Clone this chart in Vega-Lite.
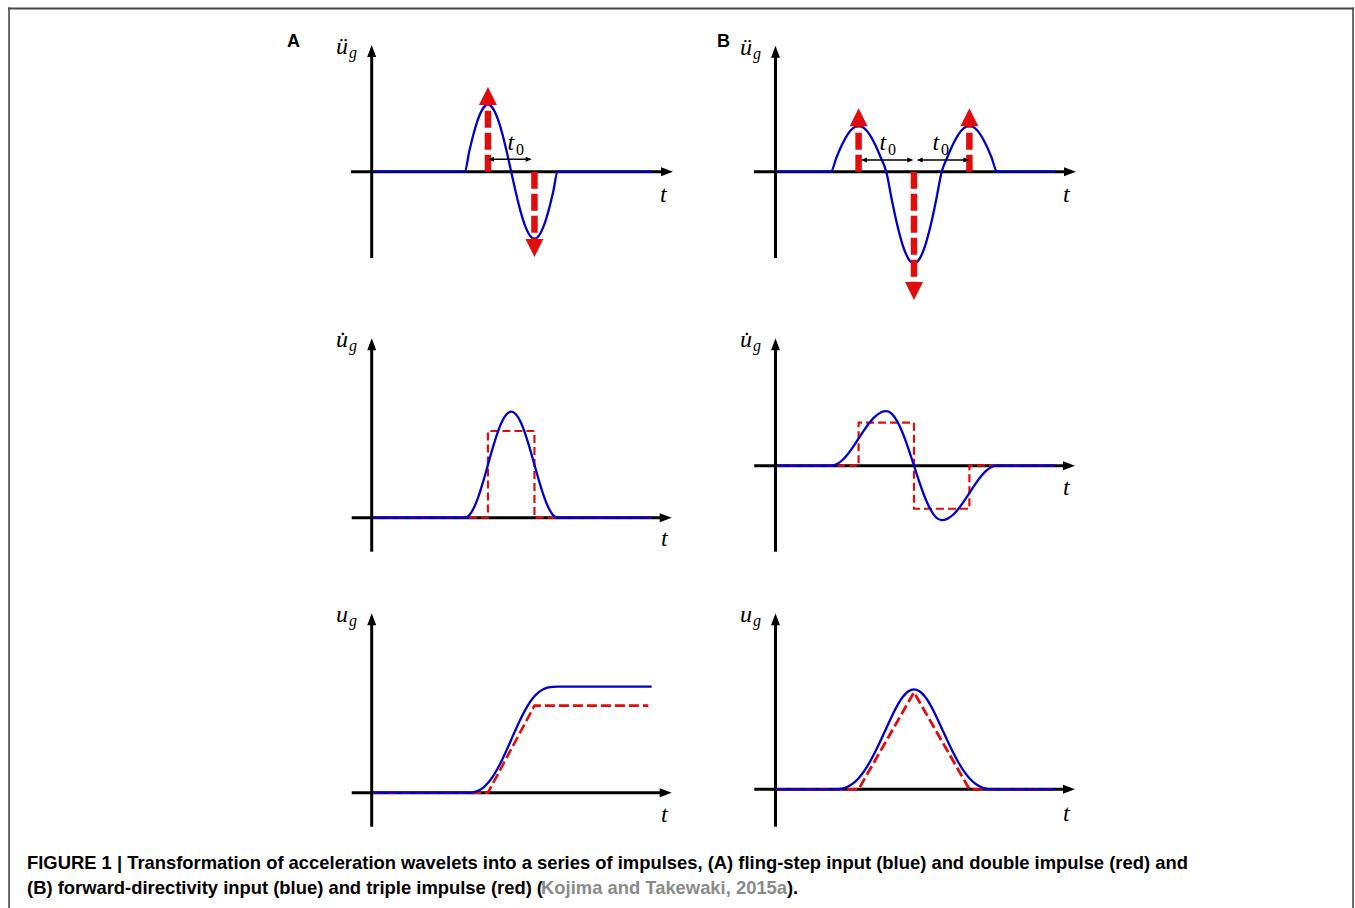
{
"$schema": "https://vega.github.io/schema/vega-lite/v6.json",
"padding": 0,
"background": "white",
"spacing": 0,
"config": {"view": {"stroke": null, "fill": "white"}},
"vconcat": [
{"hconcat": [
{"width": 678, "height": 310,
"encoding": {
"x": {"field": "x", "type": "quantitative", "scale": {"domain": [-7.99355, 6.5871], "nice": false, "zero": false}, "axis": null},
"y": {"field": "y", "type": "quantitative", "scale": {"domain": [-2.06418, 2.56269], "nice": false, "zero": false}, "axis": null}},
"layer": [
{"data": {"values": [{"x": -7.8215, "y": -2.06418, "x2": -7.7785, "y2": 2.4507}]}, "mark": {"type": "rect", "color": "#6e6e6e", "strokeWidth": 0}, "encoding": {"x2": {"field": "x2"}, "y2": {"field": "y2"}}},
{"data": {"values": [{"x": -7.8215, "y": 2.4209, "x2": 6.5871, "y2": 2.4507}]}, "mark": {"type": "rect", "color": "#4a4a4a", "strokeWidth": 0}, "encoding": {"x2": {"field": "x2"}, "y2": {"field": "y2"}}},
{"data": {"values": [{"x": 0, "y": -1.288, "x2": 0, "y2": 1.8}, {"x": -0.445, "y": 0, "x2": 6.35, "y2": 0}]}, "mark": {"type": "rule", "color": "#000", "strokeWidth": 3}, "encoding": {"x2": {"field": "x2"}, "y2": {"field": "y2"}}},
{"data": {"values": [{"x": 0, "y": 1.8015}]}, "mark": {"type": "point", "shape": "M0,-1L0.75,1L-0.75,1Z", "size": 144, "filled": true, "color": "#000", "opacity": 1, "strokeWidth": 0}},
{"data": {"values": [{"x": 6.3505, "y": 0}]}, "mark": {"type": "point", "shape": "M1,0L-1,-0.75L-1,0.75Z", "size": 144, "filled": true, "color": "#000", "opacity": 1, "strokeWidth": 0}},
{"data": {"values": [{"x":0.03,"y":0},{"x":2,"y":0},{"x":2.1,"y":0.309},{"x":2.2,"y":0.588},{"x":2.3,"y":0.809},{"x":2.4,"y":0.951},{"x":2.5,"y":1},{"x":2.6,"y":0.951},{"x":2.7,"y":0.809},{"x":2.8,"y":0.588},{"x":2.9,"y":0.309},{"x":3,"y":0},{"x":3.1,"y":-0.309},{"x":3.2,"y":-0.588},{"x":3.3,"y":-0.809},{"x":3.4,"y":-0.951},{"x":3.5,"y":-1},{"x":3.6,"y":-0.951},{"x":3.7,"y":-0.809},{"x":3.8,"y":-0.588},{"x":3.9,"y":-0.309},{"x":4,"y":0},{"x":6.03,"y":0}]}, "mark": {"type": "line", "color": "#0000cd", "strokeWidth": 2.3, "interpolate": "monotone"}, "encoding": {}},
{"data": {"values": [{"x": 2.5, "y": 0, "x2": 2.5, "y2": 0.995}, {"x": 3.5, "y": 0, "x2": 3.5, "y2": -1.0}]}, "mark": {"type": "rule", "color": "#e00d0d", "strokeWidth": 6.5, "strokeDash": [17, 5]}, "encoding": {"x2": {"field": "x2"}, "y2": {"field": "y2"}}},
{"data": {"values": [{"x": 2.5, "y": 1.1299}]}, "mark": {"type": "point", "shape": "M0,-1L1,1L-1,1Z", "size": 324, "filled": true, "color": "#e00d0d", "opacity": 1, "strokeWidth": 0}},
{"data": {"values": [{"x": 3.5, "y": -1.1388}]}, "mark": {"type": "point", "shape": "M0,1L1,-1L-1,-1Z", "size": 324, "filled": true, "color": "#e00d0d", "opacity": 1, "strokeWidth": 0}},
{"data": {"values": [{"x": 2.53, "y": 0.185, "x2": 3.41, "y2": 0.185}]}, "mark": {"type": "rule", "color": "#000", "strokeWidth": 1.5}, "encoding": {"x2": {"field": "x2"}, "y2": {"field": "y2"}}},
{"data": {"values": [{"x": 2.5656, "y": 0.185}]}, "mark": {"type": "point", "shape": "M-1,0L1,-0.85L1,0.85Z", "size": 36, "filled": true, "color": "#000", "opacity": 1, "strokeWidth": 0}},
{"data": {"values": [{"x": 3.3763, "y": 0.185}]}, "mark": {"type": "point", "shape": "M1,0L-1,-0.85L-1,0.85Z", "size": 36, "filled": true, "color": "#000", "opacity": 1, "strokeWidth": 0}},
{"data": {"values": [{"x": -0.768, "y": 1.7567, "s": "ü"}, {"x": 6.2, "y": -0.452, "s": "t"}, {"x": 2.92, "y": 0.324, "s": "t"}]}, "mark": {"type": "text", "align": "left", "baseline": "alphabetic", "font": "Liberation Serif", "fontStyle": "italic", "fontSize": 24, "color": "#000"}, "encoding": {"text": {"field": "s"}}},
{"data": {"values": [{"x": -0.488, "y": 1.697, "s": "g"}]}, "mark": {"type": "text", "align": "left", "baseline": "alphabetic", "font": "Liberation Serif", "fontStyle": "italic", "fontSize": 16, "color": "#000"}, "encoding": {"text": {"field": "s"}}},
{"data": {"values": [{"x": 3.105, "y": 0.249, "s": "0"}]}, "mark": {"type": "text", "align": "left", "baseline": "alphabetic", "font": "Liberation Serif", "fontSize": 16, "color": "#000"}, "encoding": {"text": {"field": "s"}}},
{"data": {"values": [{"x": -1.8215, "y": 1.861, "s": "A"}]}, "mark": {"type": "text", "align": "left", "baseline": "alphabetic", "font": "Liberation Sans", "fontWeight": "bold", "fontSize": 18, "color": "#000"}, "encoding": {"text": {"field": "s"}}}
]},
{"width": 677, "height": 310,
"encoding": {
"x": {"field": "x", "type": "quantitative", "scale": {"domain": [-1.75993, 10.46029], "nice": false, "zero": false}, "axis": null},
"y": {"field": "y", "type": "quantitative", "scale": {"domain": [-3.01965, 3.74891], "nice": false, "zero": false}, "axis": null}},
"layer": [
{"data": {"values": [{"x": 10.4061, "y": -3.01965, "x2": 10.4422, "y2": 3.5852}]}, "mark": {"type": "rect", "color": "#6e6e6e", "strokeWidth": 0}, "encoding": {"x2": {"field": "x2"}, "y2": {"field": "y2"}}},
{"data": {"values": [{"x": -1.75993, "y": 3.5415, "x2": 10.4422, "y2": 3.5852}]}, "mark": {"type": "rect", "color": "#4a4a4a", "strokeWidth": 0}, "encoding": {"x2": {"field": "x2"}, "y2": {"field": "y2"}}},
{"data": {"values": [{"x": 0, "y": -1.8843, "x2": 0, "y2": 2.62}, {"x": -0.388, "y": 0, "x2": 5.316, "y2": 0}]}, "mark": {"type": "rule", "color": "#000", "strokeWidth": 3}, "encoding": {"x2": {"field": "x2"}, "y2": {"field": "y2"}}},
{"data": {"values": [{"x": 0, "y": 2.62}]}, "mark": {"type": "point", "shape": "M0,-1L0.75,1L-0.75,1Z", "size": 144, "filled": true, "color": "#000", "opacity": 1, "strokeWidth": 0}},
{"data": {"values": [{"x": 5.3159, "y": 0}]}, "mark": {"type": "point", "shape": "M1,0L-1,-0.75L-1,0.75Z", "size": 144, "filled": true, "color": "#000", "opacity": 1, "strokeWidth": 0}},
{"data": {"values": [{"x":0.03,"y":0},{"x":1,"y":0},{"x":1.1,"y":0.309},{"x":1.2,"y":0.588},{"x":1.3,"y":0.809},{"x":1.4,"y":0.951},{"x":1.5,"y":1},{"x":1.6,"y":0.951},{"x":1.7,"y":0.809},{"x":1.8,"y":0.588},{"x":1.9,"y":0.309},{"x":2,"y":0},{"x":2.1,"y":-0.618},{"x":2.2,"y":-1.176},{"x":2.3,"y":-1.618},{"x":2.4,"y":-1.902},{"x":2.5,"y":-2},{"x":2.6,"y":-1.902},{"x":2.7,"y":-1.618},{"x":2.8,"y":-1.176},{"x":2.9,"y":-0.618},{"x":3,"y":0},{"x":3.1,"y":0.309},{"x":3.2,"y":0.588},{"x":3.3,"y":0.809},{"x":3.4,"y":0.951},{"x":3.5,"y":1},{"x":3.6,"y":0.951},{"x":3.7,"y":0.809},{"x":3.8,"y":0.588},{"x":3.9,"y":0.309},{"x":4,"y":0},{"x":5.045,"y":0}]}, "mark": {"type": "line", "color": "#0000cd", "strokeWidth": 2.3, "interpolate": "monotone"}, "encoding": {}},
{"data": {"values": [{"x": 1.5, "y": 0, "x2": 1.5, "y2": 0.991}, {"x": 3.5, "y": 0, "x2": 3.5, "y2": 0.991}, {"x": 2.5, "y": 0, "x2": 2.5, "y2": -2.408}]}, "mark": {"type": "rule", "color": "#e00d0d", "strokeWidth": 6.5, "strokeDash": [17, 5]}, "encoding": {"x2": {"field": "x2"}, "y2": {"field": "y2"}}},
{"data": {"values": [{"x": 1.5, "y": 1.188}, {"x": 3.5, "y": 1.188}]}, "mark": {"type": "point", "shape": "M0,-1L1,1L-1,1Z", "size": 324, "filled": true, "color": "#e00d0d", "opacity": 1, "strokeWidth": 0}},
{"data": {"values": [{"x": 2.5, "y": -2.605}]}, "mark": {"type": "point", "shape": "M0,1L1,-1L-1,-1Z", "size": 324, "filled": true, "color": "#e00d0d", "opacity": 1, "strokeWidth": 0}},
{"data": {"values": [{"x": 1.57, "y": 0.2555, "x2": 2.46, "y2": 0.2555}, {"x": 2.58, "y": 0.2555, "x2": 3.47, "y2": 0.2555}]}, "mark": {"type": "rule", "color": "#000", "strokeWidth": 1.5}, "encoding": {"x2": {"field": "x2"}, "y2": {"field": "y2"}}},
{"data": {"values": [{"x": 1.598, "y": 0.2555}, {"x": 2.603, "y": 0.2555}]}, "mark": {"type": "point", "shape": "M-1,0L1,-0.85L1,0.85Z", "size": 36, "filled": true, "color": "#000", "opacity": 1, "strokeWidth": 0}},
{"data": {"values": [{"x": 2.433, "y": 0.2555}, {"x": 3.444, "y": 0.2555}]}, "mark": {"type": "point", "shape": "M1,0L-1,-0.85L-1,0.85Z", "size": 36, "filled": true, "color": "#000", "opacity": 1, "strokeWidth": 0}},
{"data": {"values": [{"x": -0.641, "y": 2.548, "s": "ü"}, {"x": 5.19, "y": -0.662, "s": "t"}, {"x": 1.877, "y": 0.474, "s": "t"}, {"x": 2.834, "y": 0.474, "s": "t"}]}, "mark": {"type": "text", "align": "left", "baseline": "alphabetic", "font": "Liberation Serif", "fontStyle": "italic", "fontSize": 24, "color": "#000"}, "encoding": {"text": {"field": "s"}}},
{"data": {"values": [{"x": -0.406, "y": 2.461, "s": "g"}]}, "mark": {"type": "text", "align": "left", "baseline": "alphabetic", "font": "Liberation Serif", "fontStyle": "italic", "fontSize": 16, "color": "#000"}, "encoding": {"text": {"field": "s"}}},
{"data": {"values": [{"x": 2.031, "y": 0.365, "s": "0"}, {"x": 2.987, "y": 0.365, "s": "0"}]}, "mark": {"type": "text", "align": "left", "baseline": "alphabetic", "font": "Liberation Serif", "fontSize": 16, "color": "#000"}, "encoding": {"text": {"field": "s"}}},
{"data": {"values": [{"x": -1.056, "y": 2.723, "s": "B"}]}, "mark": {"type": "text", "align": "left", "baseline": "alphabetic", "font": "Liberation Sans", "fontWeight": "bold", "fontSize": 18, "color": "#000"}, "encoding": {"text": {"field": "s"}}}
]}
], "spacing": 0, "bounds": "flush"},
{"hconcat": [
{"width": 678, "height": 275,
"encoding": {
"x": {"field": "x", "type": "quantitative", "scale": {"domain": [-7.99355, 6.5871], "nice": false, "zero": false}, "axis": null},
"y": {"field": "y", "type": "quantitative", "scale": {"domain": [-0.63491, 1.95943], "nice": false, "zero": false}, "axis": null}},
"layer": [
{"data": {"values": [{"x": -7.8215, "y": -0.63491, "x2": -7.7785, "y2": 1.95943}]}, "mark": {"type": "rect", "color": "#6e6e6e", "strokeWidth": 0}, "encoding": {"x2": {"field": "x2"}, "y2": {"field": "y2"}}},
{"data": {"values": [{"x": 0, "y": -0.3208, "x2": 0, "y2": 1.636}, {"x": -0.43, "y": 0, "x2": 6.3226, "y2": 0}]}, "mark": {"type": "rule", "color": "#000", "strokeWidth": 3}, "encoding": {"x2": {"field": "x2"}, "y2": {"field": "y2"}}},
{"data": {"values": [{"x": 0, "y": 1.636}]}, "mark": {"type": "point", "shape": "M0,-1L0.75,1L-0.75,1Z", "size": 144, "filled": true, "color": "#000", "opacity": 1, "strokeWidth": 0}},
{"data": {"values": [{"x": 6.3226, "y": 0}]}, "mark": {"type": "point", "shape": "M1,0L-1,-0.75L-1,0.75Z", "size": 144, "filled": true, "color": "#000", "opacity": 1, "strokeWidth": 0}},
{"data": {"values": [{"i":0,"x":0.03,"y":0},{"i":1,"x":2.5,"y":0},{"i":2,"x":2.5,"y":0.818},{"i":3,"x":3.5,"y":0.818},{"i":4,"x":3.5,"y":0},{"i":5,"x":6.02,"y":0}]}, "mark": {"type": "line", "color": "#e00d0d", "strokeWidth": 2.2, "strokeDash": [8, 4]}, "encoding": {"order": {"field": "i", "type": "quantitative"}}},
{"data": {"values": [{"x":0.03,"y":0},{"x":2,"y":0},{"x":2.1,"y":0.0245},{"x":2.2,"y":0.0955},{"x":2.3,"y":0.206},{"x":2.4,"y":0.3455},{"x":2.5,"y":0.5},{"x":2.6,"y":0.6545},{"x":2.7,"y":0.794},{"x":2.8,"y":0.9045},{"x":2.9,"y":0.9755},{"x":3,"y":1},{"x":3.1,"y":0.9755},{"x":3.2,"y":0.9045},{"x":3.3,"y":0.794},{"x":3.4,"y":0.6545},{"x":3.5,"y":0.5},{"x":3.6,"y":0.3455},{"x":3.7,"y":0.206},{"x":3.8,"y":0.0955},{"x":3.9,"y":0.0245},{"x":4,"y":0},{"x":6.02,"y":0}]}, "mark": {"type": "line", "color": "#0000cd", "strokeWidth": 2.3, "interpolate": "monotone"}, "encoding": {}},
{"data": {"values": [{"x": -0.768, "y": 1.6075, "s": "u̇"}, {"x": 6.222, "y": -0.267, "s": "t"}]}, "mark": {"type": "text", "align": "left", "baseline": "alphabetic", "font": "Liberation Serif", "fontStyle": "italic", "fontSize": 24, "color": "#000"}, "encoding": {"text": {"field": "s"}}},
{"data": {"values": [{"x": -0.488, "y": 1.5698, "s": "g"}]}, "mark": {"type": "text", "align": "left", "baseline": "alphabetic", "font": "Liberation Serif", "fontStyle": "italic", "fontSize": 16, "color": "#000"}, "encoding": {"text": {"field": "s"}}}
]},
{"width": 677, "height": 275,
"encoding": {
"x": {"field": "x", "type": "quantitative", "scale": {"domain": [-1.75993, 10.46029], "nice": false, "zero": false}, "axis": null},
"y": {"field": "y", "type": "quantitative", "scale": {"domain": [-2.18899, 2.85688], "nice": false, "zero": false}, "axis": null}},
"layer": [
{"data": {"values": [{"x": 10.4061, "y": -2.18899, "x2": 10.4422, "y2": 2.85688}]}, "mark": {"type": "rect", "color": "#6e6e6e", "strokeWidth": 0}, "encoding": {"x2": {"field": "x2"}, "y2": {"field": "y2"}}},
{"data": {"values": [{"x": 0, "y": -1.578, "x2": 0, "y2": 2.2275}, {"x": -0.383, "y": 0, "x2": 5.298, "y2": 0}]}, "mark": {"type": "rule", "color": "#000", "strokeWidth": 3}, "encoding": {"x2": {"field": "x2"}, "y2": {"field": "y2"}}},
{"data": {"values": [{"x": 0, "y": 2.2275}]}, "mark": {"type": "point", "shape": "M0,-1L0.75,1L-0.75,1Z", "size": 144, "filled": true, "color": "#000", "opacity": 1, "strokeWidth": 0}},
{"data": {"values": [{"x": 5.298, "y": 0}]}, "mark": {"type": "point", "shape": "M1,0L-1,-0.75L-1,0.75Z", "size": 144, "filled": true, "color": "#000", "opacity": 1, "strokeWidth": 0}},
{"data": {"values": [{"i":0,"x":0.03,"y":0},{"i":1,"x":1.5,"y":0},{"i":2,"x":1.5,"y":0.79},{"i":3,"x":2.5,"y":0.79},{"i":4,"x":2.5,"y":-0.79},{"i":5,"x":3.5,"y":-0.79},{"i":6,"x":3.5,"y":0},{"i":7,"x":5.045,"y":0}]}, "mark": {"type": "line", "color": "#e00d0d", "strokeWidth": 2.2, "strokeDash": [8, 4]}, "encoding": {"order": {"field": "i", "type": "quantitative"}}},
{"data": {"values": [{"x":0.03,"y":0},{"x":1,"y":0},{"x":1.1,"y":0.0245},{"x":1.2,"y":0.0955},{"x":1.3,"y":0.206},{"x":1.4,"y":0.3455},{"x":1.5,"y":0.5},{"x":1.6,"y":0.6545},{"x":1.7,"y":0.794},{"x":1.8,"y":0.9045},{"x":1.9,"y":0.9755},{"x":2,"y":1},{"x":2.1,"y":0.951},{"x":2.2,"y":0.809},{"x":2.3,"y":0.588},{"x":2.4,"y":0.309},{"x":2.5,"y":0},{"x":2.6,"y":-0.309},{"x":2.7,"y":-0.588},{"x":2.8,"y":-0.809},{"x":2.9,"y":-0.951},{"x":3,"y":-1},{"x":3.1,"y":-0.9755},{"x":3.2,"y":-0.9045},{"x":3.3,"y":-0.794},{"x":3.4,"y":-0.6545},{"x":3.5,"y":-0.5},{"x":3.6,"y":-0.3455},{"x":3.7,"y":-0.206},{"x":3.8,"y":-0.0955},{"x":3.9,"y":-0.0245},{"x":4,"y":0},{"x":5.045,"y":0}]}, "mark": {"type": "line", "color": "#0000cd", "strokeWidth": 2.3, "interpolate": "monotone"}, "encoding": {}},
{"data": {"values": [{"x": -0.641, "y": 2.1725, "s": "u̇"}, {"x": 5.19, "y": -0.538, "s": "t"}]}, "mark": {"type": "text", "align": "left", "baseline": "alphabetic", "font": "Liberation Serif", "fontStyle": "italic", "fontSize": 24, "color": "#000"}, "encoding": {"text": {"field": "s"}}},
{"data": {"values": [{"x": -0.406, "y": 2.099, "s": "g"}]}, "mark": {"type": "text", "align": "left", "baseline": "alphabetic", "font": "Liberation Serif", "fontStyle": "italic", "fontSize": 16, "color": "#000"}, "encoding": {"text": {"field": "s"}}}
]}
], "spacing": 0, "bounds": "flush"},
{"hconcat": [
{"width": 678, "height": 255,
"encoding": {
"x": {"field": "x", "type": "quantitative", "scale": {"domain": [-7.99355, 6.5871], "nice": false, "zero": false}, "axis": null},
"y": {"field": "y", "type": "quantitative", "scale": {"domain": [-0.44623, 1.95943], "nice": false, "zero": false}, "axis": null}},
"layer": [
{"data": {"values": [{"x": -7.8215, "y": -0.44623, "x2": -7.7785, "y2": 1.95943}]}, "mark": {"type": "rect", "color": "#6e6e6e", "strokeWidth": 0}, "encoding": {"x2": {"field": "x2"}, "y2": {"field": "y2"}}},
{"data": {"values": [{"x": 0, "y": -0.3208, "x2": 0, "y2": 1.636}, {"x": -0.43, "y": 0, "x2": 6.3226, "y2": 0}]}, "mark": {"type": "rule", "color": "#000", "strokeWidth": 3}, "encoding": {"x2": {"field": "x2"}, "y2": {"field": "y2"}}},
{"data": {"values": [{"x": 0, "y": 1.636}]}, "mark": {"type": "point", "shape": "M0,-1L0.75,1L-0.75,1Z", "size": 144, "filled": true, "color": "#000", "opacity": 1, "strokeWidth": 0}},
{"data": {"values": [{"x": 6.3226, "y": 0}]}, "mark": {"type": "point", "shape": "M1,0L-1,-0.75L-1,0.75Z", "size": 144, "filled": true, "color": "#000", "opacity": 1, "strokeWidth": 0}},
{"data": {"values": [{"i":0,"x":0.03,"y":0},{"i":1,"x":2.5,"y":0},{"i":2,"x":3.5,"y":0.821},{"i":3,"x":5.95,"y":0.821}]}, "mark": {"type": "line", "color": "#e00d0d", "strokeWidth": 2.6, "strokeDash": [10, 4]}, "encoding": {"order": {"field": "i", "type": "quantitative"}}},
{"data": {"values": [{"x":0.03,"y":0},{"x":2,"y":0},{"x":2.1,"y":0.0008},{"x":2.2,"y":0.0065},{"x":2.3,"y":0.0213},{"x":2.4,"y":0.0487},{"x":2.5,"y":0.0909},{"x":2.6,"y":0.1487},{"x":2.7,"y":0.2213},{"x":2.8,"y":0.3065},{"x":2.9,"y":0.4008},{"x":3,"y":0.5},{"x":3.1,"y":0.5992},{"x":3.2,"y":0.6935},{"x":3.3,"y":0.7787},{"x":3.4,"y":0.8513},{"x":3.5,"y":0.9091},{"x":3.6,"y":0.9513},{"x":3.7,"y":0.9787},{"x":3.8,"y":0.9935},{"x":3.9,"y":0.9992},{"x":4,"y":1},{"x":6.02,"y":1}]}, "mark": {"type": "line", "color": "#0000cd", "strokeWidth": 2.3, "interpolate": "monotone"}, "encoding": {}},
{"data": {"values": [{"x": -0.768, "y": 1.6075, "s": "u"}, {"x": 6.222, "y": -0.276, "s": "t"}]}, "mark": {"type": "text", "align": "left", "baseline": "alphabetic", "font": "Liberation Serif", "fontStyle": "italic", "fontSize": 24, "color": "#000"}, "encoding": {"text": {"field": "s"}}},
{"data": {"values": [{"x": -0.488, "y": 1.5698, "s": "g"}]}, "mark": {"type": "text", "align": "left", "baseline": "alphabetic", "font": "Liberation Serif", "fontStyle": "italic", "fontSize": 16, "color": "#000"}, "encoding": {"text": {"field": "s"}}}
]},
{"width": 677, "height": 255,
"encoding": {
"x": {"field": "x", "type": "quantitative", "scale": {"domain": [-1.75993, 10.46029], "nice": false, "zero": false}, "axis": null},
"y": {"field": "y", "type": "quantitative", "scale": {"domain": [-0.507, 2.043], "nice": false, "zero": false}, "axis": null}},
"layer": [
{"data": {"values": [{"x": 10.4061, "y": -0.507, "x2": 10.4422, "y2": 2.043}]}, "mark": {"type": "rect", "color": "#6e6e6e", "strokeWidth": 0}, "encoding": {"x2": {"field": "x2"}, "y2": {"field": "y2"}}},
{"data": {"values": [{"x": 0, "y": -0.374, "x2": 0, "y2": 1.7}, {"x": -0.383, "y": 0, "x2": 5.298, "y2": 0}]}, "mark": {"type": "rule", "color": "#000", "strokeWidth": 3}, "encoding": {"x2": {"field": "x2"}, "y2": {"field": "y2"}}},
{"data": {"values": [{"x": 0, "y": 1.7}]}, "mark": {"type": "point", "shape": "M0,-1L0.75,1L-0.75,1Z", "size": 144, "filled": true, "color": "#000", "opacity": 1, "strokeWidth": 0}},
{"data": {"values": [{"x": 5.298, "y": 0}]}, "mark": {"type": "point", "shape": "M1,0L-1,-0.75L-1,0.75Z", "size": 144, "filled": true, "color": "#000", "opacity": 1, "strokeWidth": 0}},
{"data": {"values": [{"i":0,"x":0.03,"y":0},{"i":1,"x":1.5,"y":0},{"i":2,"x":2.5,"y":0.97},{"i":3,"x":3.5,"y":0},{"i":4,"x":5.045,"y":0}]}, "mark": {"type": "line", "color": "#e00d0d", "strokeWidth": 2.8, "strokeDash": [10, 4]}, "encoding": {"order": {"field": "i", "type": "quantitative"}}},
{"data": {"values": [{"x":0.03,"y":0},{"x":1,"y":0},{"x":1.1,"y":0.001},{"x":1.2,"y":0.0079},{"x":1.3,"y":0.026},{"x":1.4,"y":0.0595},{"x":1.5,"y":0.111},{"x":1.6,"y":0.1817},{"x":1.7,"y":0.2704},{"x":1.8,"y":0.3745},{"x":1.9,"y":0.4898},{"x":2,"y":0.611},{"x":2.1,"y":0.7313},{"x":2.2,"y":0.8397},{"x":2.3,"y":0.9257},{"x":2.4,"y":0.9809},{"x":2.5,"y":1},{"x":2.6,"y":0.9809},{"x":2.7,"y":0.9257},{"x":2.8,"y":0.8397},{"x":2.9,"y":0.7313},{"x":3,"y":0.611},{"x":3.1,"y":0.4898},{"x":3.2,"y":0.3745},{"x":3.3,"y":0.2704},{"x":3.4,"y":0.1817},{"x":3.5,"y":0.111},{"x":3.6,"y":0.0595},{"x":3.7,"y":0.026},{"x":3.8,"y":0.0079},{"x":3.9,"y":0.001},{"x":4,"y":0},{"x":5.045,"y":0}]}, "mark": {"type": "line", "color": "#0000cd", "strokeWidth": 2.3, "interpolate": "monotone"}, "encoding": {}},
{"data": {"values": [{"x": -0.641, "y": 1.67, "s": "u"}, {"x": 5.19, "y": -0.317, "s": "t"}]}, "mark": {"type": "text", "align": "left", "baseline": "alphabetic", "font": "Liberation Serif", "fontStyle": "italic", "fontSize": 24, "color": "#000"}, "encoding": {"text": {"field": "s"}}},
{"data": {"values": [{"x": -0.406, "y": 1.63, "s": "g"}]}, "mark": {"type": "text", "align": "left", "baseline": "alphabetic", "font": "Liberation Serif", "fontStyle": "italic", "fontSize": 16, "color": "#000"}, "encoding": {"text": {"field": "s"}}}
]}
], "spacing": 0, "bounds": "flush"},
{"width": 1355, "height": 68,
"encoding": {
"x": {"field": "x", "type": "quantitative", "scale": {"domain": [0, 1], "nice": false, "zero": false}, "axis": null},
"y": {"field": "y", "type": "quantitative", "scale": {"domain": [0, 1], "nice": false, "zero": false}, "axis": null}},
"layer": [
{"data": {"values": [{"x": 0.005904, "y": 0, "x2": 0.00738, "y2": 1}, {"x": 0.997786, "y": 0, "x2": 0.999262, "y2": 1}]}, "mark": {"type": "rect", "color": "#6e6e6e", "strokeWidth": 0}, "encoding": {"x2": {"field": "x2"}, "y2": {"field": "y2"}}},
{"data": {"values": [{"x": 0.01993, "y": 0.5735, "s": "FIGURE 1 | Transformation of acceleration wavelets into a series of impulses, (A) fling-step input (blue) and double impulse (red) and"}, {"x": 0.01993, "y": 0.2059, "s": "(B) forward-directivity input (blue) and triple impulse (red) ("}, {"x": 0.5808, "y": 0.2059, "s": ")."}]}, "mark": {"type": "text", "align": "left", "baseline": "alphabetic", "font": "Liberation Sans", "fontWeight": "bold", "fontSize": 18.4, "color": "#000"}, "encoding": {"text": {"field": "s"}}},
{"data": {"values": [{"x": 0.3993, "y": 0.2059, "s": "Kojima and Takewaki, 2015a"}]}, "mark": {"type": "text", "align": "left", "baseline": "alphabetic", "font": "Liberation Sans", "fontWeight": "bold", "fontSize": 18.4, "color": "#8a8a8a"}, "encoding": {"text": {"field": "s"}}}
]}
]
}
